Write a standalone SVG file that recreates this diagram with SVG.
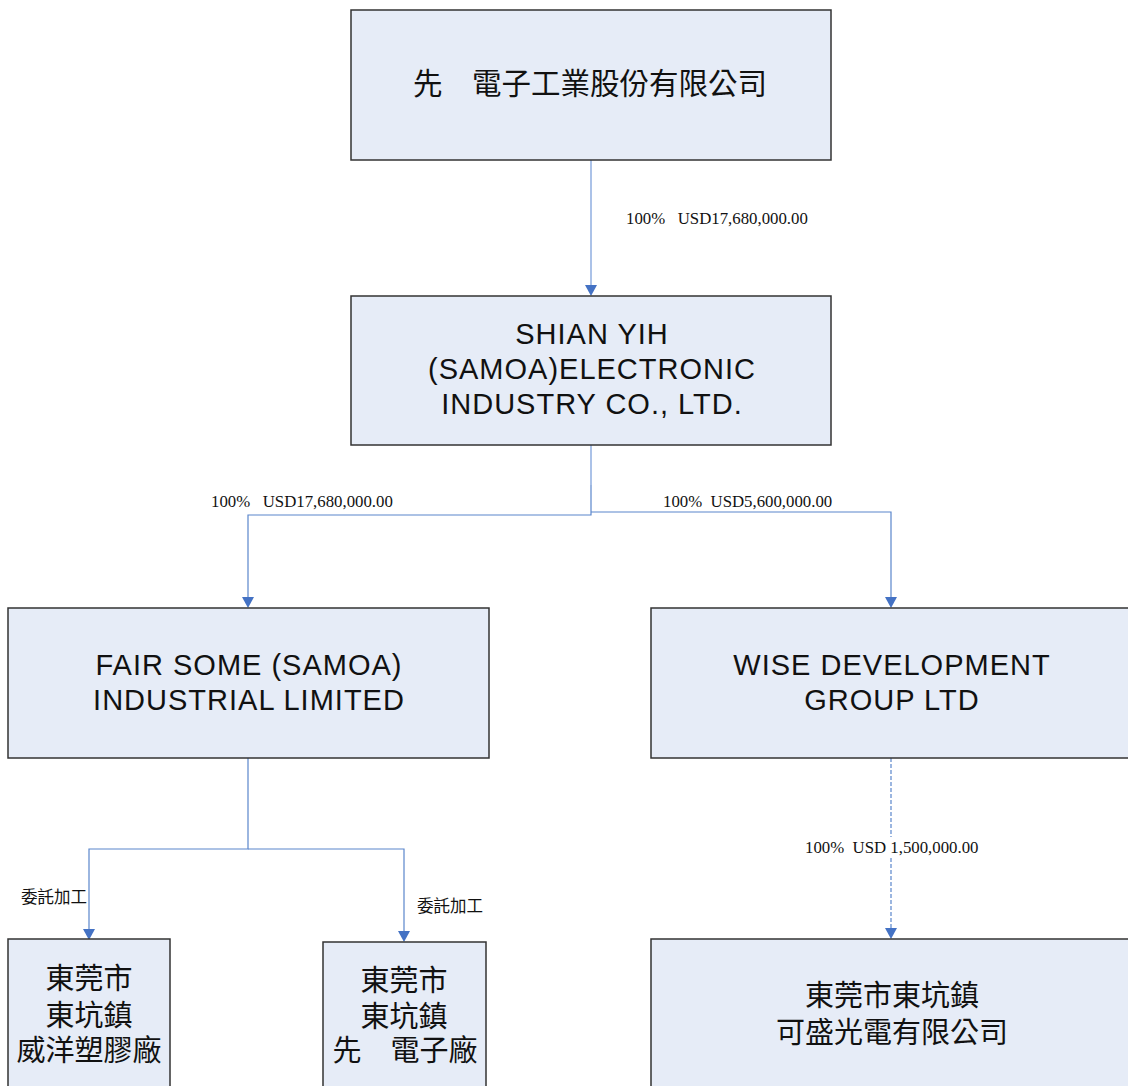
<svg xmlns="http://www.w3.org/2000/svg" width="1128" height="1086" viewBox="0 0 1128 1086">
<style>
.box{fill:#E6ECF7;stroke:#333;stroke-width:1.5}
.cjk{font-family:"Noto Sans CJK TC","Noto Sans CJK SC",sans-serif;fill:#111;text-anchor:middle}
.lat{font-family:"Liberation Sans",Arial,sans-serif;font-size:29px;letter-spacing:1px;fill:#111;text-anchor:middle}
.lbl{font-family:"Liberation Serif","Times New Roman",serif;font-size:16.8px;fill:#111}
.c{fill:none;stroke:#5A86CC;stroke-width:1.2}
.cl{fill:none;stroke:#8FAEE0;stroke-width:1.5}
</style>
<defs>
<marker id="ah" markerWidth="12" markerHeight="11" refX="6" refY="11" orient="auto" markerUnits="userSpaceOnUse" viewBox="0 0 12 11">
<path d="M0,0 L12,0 L6,11 Z" fill="#4472C4"/>
</marker>
</defs>
<rect width="1128" height="1086" fill="#fff"/>
<g id="connectors">
<path class="cl" d="M591,160 V285"/>
<path d="M585,285 L597,285 L591,296 Z" fill="#4472C4"/>
<path class="cl" d="M591,445 V485"/>
<path class="c" d="M591,485 V515 H248 V597"/>
<path d="M242,597 L254,597 L248,608 Z" fill="#4472C4"/>
<path class="c" d="M591,512 H891 V597"/>
<path d="M885,597 L897,597 L891,608 Z" fill="#4472C4"/>
<path class="c" d="M248,758 V849 H89 V929"/>
<path d="M83,929 L95,929 L89,940 Z" fill="#4472C4"/>
<path class="c" d="M248,849 H404 V931"/>
<path d="M398,931 L410,931 L404,942 Z" fill="#4472C4"/>
<path class="c" d="M891,758 V837 M891,858 V928" stroke-dasharray="4,2"/>
<path d="M885,928 L897,928 L891,939 Z" fill="#4472C4"/>
<text class="lbl" x="626" y="224" xml:space="preserve">100%   USD17,680,000.00</text>
<text class="lbl" x="211" y="507" xml:space="preserve">100%   USD17,680,000.00</text>
<text class="lbl" x="663" y="507" xml:space="preserve">100%  USD5,600,000.00</text>
<text class="lbl" x="805" y="853" xml:space="preserve">100%  USD 1,500,000.00</text>
<text class="cjk" x="54" y="903" font-size="16.5">委託加工</text>
<text class="cjk" x="450" y="912" font-size="16.5">委託加工</text>
</g>
<g id="n1">
<rect class="box" x="351" y="10" width="480" height="150"/>
<text class="cjk" x="590" y="94" font-size="29.5">先　電子工業股份有限公司</text>
</g>
<g id="n2">
<rect class="box" x="351" y="296" width="480" height="149"/>
<text class="lat" x="592" y="344">SHIAN YIH</text>
<text class="lat" x="592" y="379">(SAMOA)ELECTRONIC</text>
<text class="lat" x="592" y="414">INDUSTRY CO., LTD.</text>
</g>
<g id="n3">
<rect class="box" x="8" y="608" width="481" height="150"/>
<text class="lat" x="249" y="675">FAIR SOME (SAMOA)</text>
<text class="lat" x="249" y="710">INDUSTRIAL LIMITED</text>
</g>
<g id="n4">
<rect class="box" x="651" y="608" width="480" height="150"/>
<text class="lat" x="892" y="675">WISE DEVELOPMENT</text>
<text class="lat" x="892" y="710">GROUP LTD</text>
</g>
<g id="n5">
<rect class="box" x="8" y="939" width="162" height="160"/>
<text class="cjk" x="89" y="989" font-size="29">東莞市</text>
<text class="cjk" x="89" y="1026" font-size="29">東坑鎮</text>
<text class="cjk" x="89" y="1061" font-size="29">威洋塑膠廠</text>
</g>
<g id="n6">
<rect class="box" x="323" y="942" width="163" height="160"/>
<text class="cjk" x="404" y="991" font-size="29">東莞市</text>
<text class="cjk" x="404" y="1027" font-size="29">東坑鎮</text>
<text class="cjk" x="405" y="1061" font-size="29">先　電子廠</text>
</g>
<g id="n7">
<rect class="box" x="651" y="939" width="480" height="160"/>
<text class="cjk" x="892" y="1006" font-size="29">東莞市東坑鎮</text>
<text class="cjk" x="892" y="1043" font-size="29">可盛光電有限公司</text>
</g>
</svg>
